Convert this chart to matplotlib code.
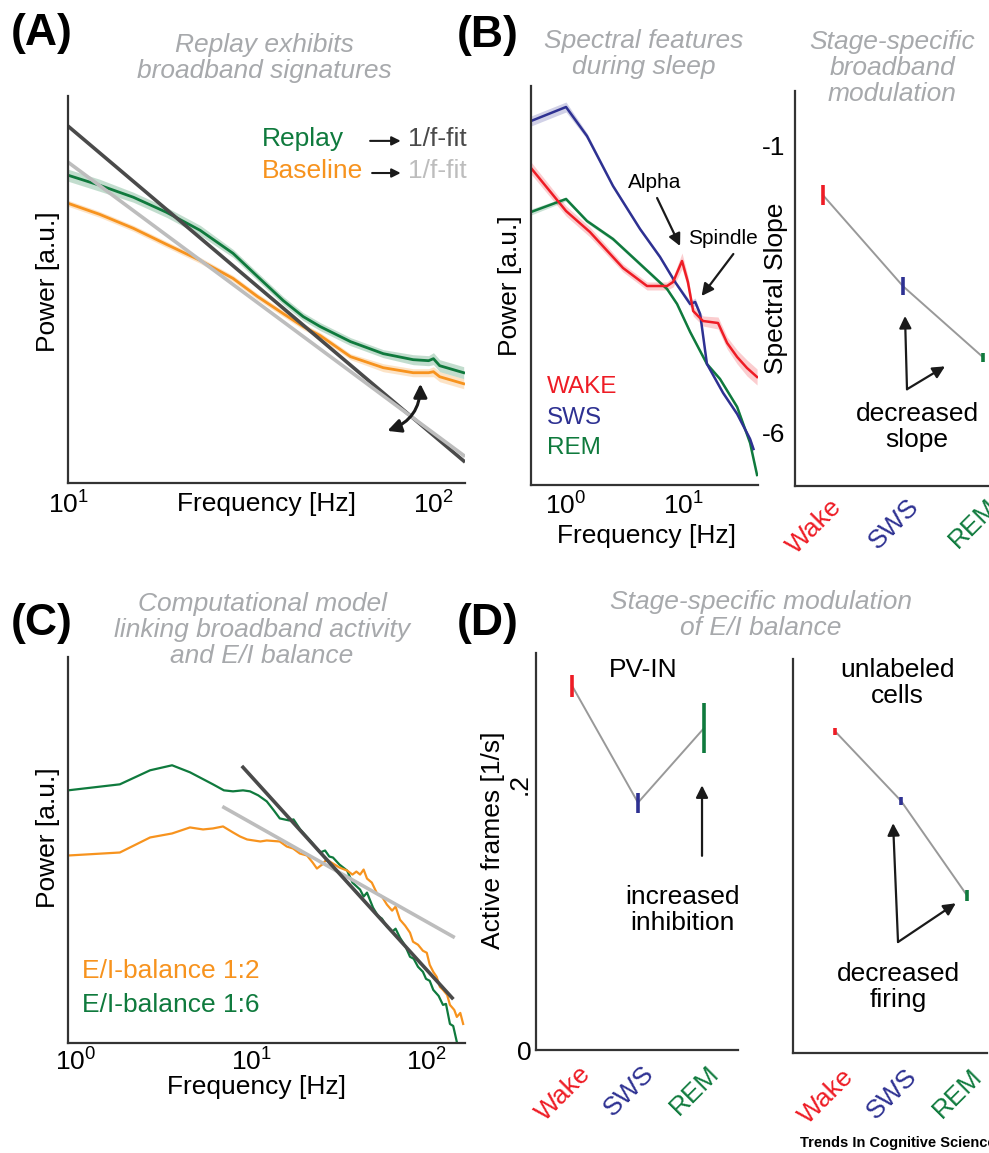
import numpy as np
import matplotlib
matplotlib.use('Agg')
import matplotlib.pyplot as plt
from matplotlib.transforms import ScaledTranslation

plt.rcParams['font.family'] = ['Liberation Sans', 'DejaVu Sans']
plt.rcParams['mathtext.fontset'] = 'custom'
plt.rcParams['mathtext.rm'] = 'Liberation Sans'
plt.rcParams['mathtext.it'] = 'Liberation Sans:italic'
plt.rcParams['mathtext.bf'] = 'Liberation Sans:bold'

# colours
GREEN = '#0f7a3d'
ORANGE = '#f7931e'
RED = '#ee1c25'
BLUE = '#2e3192'
TITLE_GRAY = '#a7a9ac'
FIT_DARK = '#4a4a4a'
FIT_LIGHT = '#bdbdbd'
SPINE = '#333333'
LINK = '#999999'

# ---- panel A: replay vs baseline spectra ----
a_freq = [10, 12.2, 15.1, 18.6, 23, 28.3, 33, 38.8, 44, 49, 59.3, 72.9, 88, 97, 100, 104, 121]
a_replay = [307, 297, 285, 270, 252, 229, 206, 182, 166, 156, 141, 129, 123, 122, 124, 117, 110]
a_replay_sem = [6, 6, 5, 5, 5, 4, 4, 4, 4, 4, 4, 4, 5, 5, 6, 6, 6]
a_baseline = [279, 268, 254, 238, 222, 204, 186, 169, 156, 147, 126, 115, 110, 110, 111, 106, 99]
a_baseline_sem = [3, 3, 3, 3, 3, 3, 3, 3, 3, 3, 3, 4, 4, 4, 5, 5, 5]
a_fit_freq = [10, 121]
a_fit_replay = [356, 22]
a_fit_baseline = [320, 27.5]

# ---- panel B: spectra per sleep stage ----
b_wake_freq = [0.502, 1.0, 1.6, 3.07, 4.92, 7.3, 8.22, 9.8, 11.0, 12.2, 14.8, 19.9, 23.8, 29.0, 35.2, 42.9]
b_wake = [317, 274, 253, 217, 199, 199, 203, 224, 203, 174, 164, 162, 142, 128, 117, 108]
b_wake_sem = [6, 5, 5, 4, 4, 4, 5, 8, 6, 5, 5, 6, 6, 7, 8, 8]
b_sws_freq = [0.502, 1.0, 1.51, 2.52, 4.29, 6.36, 8.55, 11.5, 12.7, 14.0, 16.0, 22.0, 29.0, 37.4, 40.0]
b_sws = [364, 378, 349, 299, 256, 228, 203, 181, 183, 171, 121, 92, 71, 46, 36]
b_sws_sem = [5, 5, 3, 2, 2, 2, 2, 3, 4, 2, 2, 2, 2, 2, 2]
b_rem_freq = [0.502, 1.0, 1.51, 2.52, 4.29, 7.3, 8.89, 11.5, 16.0, 20.7, 29.0, 37.4, 42.9]
b_rem = [273, 286, 264, 246, 221, 196, 181, 153, 121, 106, 78, 42, 10]
b_rem_sem = [3, 2, 2, 2, 2, 2, 2, 2, 2, 2, 2, 2, 2]

stages = ['Wake', 'SWS', 'REM']
stage_colors = [RED, BLUE, GREEN]
b_slope = [-1.86, -3.45, -4.69]
b_slope_err = [0.17, 0.16, 0.08]

# ---- panel C: model spectra ----
c_ei6_freq = [0.9, 1.78, 2.65, 3.54, 4.48, 6.06, 7.0, 7.89, 9.0, 9.87, 11, 12.3, 13.5, 14.6, 16.5,
              17.5, 19.1, 21, 22.5, 24.8, 26.5, 28, 29.4, 32, 35.4, 38, 42, 44, 46, 49.8, 53, 56,
              59.8, 64, 67, 71, 76, 81, 85, 90, 96, 100, 105, 110, 118, 125, 130, 137, 143, 150]
c_ei6 = [252, 258, 272, 277, 270, 258, 252, 251, 252, 251, 247, 241, 232, 224, 222,
         223, 213, 205, 199, 190, 192, 186, 185, 178, 172, 160, 153, 146, 150, 135, 127, 124,
         116, 111, 114, 105, 97, 86, 84, 76, 71, 64, 62, 53, 47, 38, 39, 19, 17, 1]
c_ei2_freq = [0.9, 1.78, 2.65, 3.54, 4.48, 5.32, 6.06, 6.92, 7.89, 8.65, 9.5, 11.3, 12.3, 14.6, 16,
              17.4, 19, 20.9, 22.5, 23.8, 25.5, 27, 29.4, 32, 35.4, 38, 40, 42, 44, 46, 49, 52.5,
              56, 59.8, 64, 67, 71, 76, 81, 84.3, 90, 96, 101, 105, 110, 115, 120, 125, 132, 137,
              145, 150, 157, 163]
c_ei2 = [187, 190, 205, 209, 215, 213, 214, 216, 210, 206, 203, 201, 202, 201, 196,
         194, 189, 187, 180, 174, 178, 183, 179, 175, 172, 168, 171, 168, 173, 164, 160, 149,
         146, 138, 132, 136, 123, 117, 110, 101, 98, 92, 90, 78, 71, 66, 56, 53, 48, 38,
         33, 26, 30, 19]
c_fit6_freq = [9.0, 141]
c_fit6 = [275, 45]
c_fit2_freq = [7.0, 143]
c_fit2 = [235, 106]

# ---- panel D: active frames per stage ----
d_pv = [0.274, 0.186, 0.242]
d_pv_err = [0.0083, 0.0075, 0.019]
d_unl = [0.245, 0.192, 0.120]
d_unl_err = [0.0025, 0.003, 0.004]

W, H = 989, 1153
fig = plt.figure(figsize=(W / 100, H / 100), dpi=100)


def px_axes(l, t, r, b):
    return fig.add_axes([l / W, 1 - b / H, (r - l) / W, (b - t) / H])


def fig_text(x, y, s, **kw):
    fig.text(x / W, 1 - y / H, s, **kw)


def style(ax):
    for side in ['top', 'right']:
        ax.spines[side].set_visible(False)
    for side in ['left', 'bottom']:
        ax.spines[side].set_linewidth(1.6)
        ax.spines[side].set_color(SPINE)
    ax.tick_params(length=0, labelsize=19)
    ax.set_facecolor('none')


def stage_ticks(ax, pad):
    ax.set_xticks(range(len(stages)))
    ax.set_xticklabels(stages, rotation=45, ha='center', va='top')
    ax.tick_params(axis='x', pad=pad)
    for lbl, c in zip(ax.get_xticklabels(), stage_colors):
        lbl.set_color(c)
        lbl.set_transform(lbl.get_transform() + ScaledTranslation(-0.09, 0, fig.dpi_scale_trans))


arrow_kw = dict(arrowstyle='-|>', color='#1a1a1a', lw=1.6, mutation_scale=18, shrinkA=0, shrinkB=0)

# ================= A =================
ax = px_axes(68, 96, 465, 483)
style(ax)
ax.set_xscale('log')
ax.fill_between(a_freq, np.array(a_replay) - a_replay_sem, np.array(a_replay) + a_replay_sem,
                color=GREEN, alpha=0.25, lw=0)
ax.fill_between(a_freq, np.array(a_baseline) - a_baseline_sem, np.array(a_baseline) + a_baseline_sem,
                color=ORANGE, alpha=0.25, lw=0)
ax.plot(a_freq, a_replay, color=GREEN, lw=2)
ax.plot(a_freq, a_baseline, color=ORANGE, lw=2)
ax.plot(a_fit_freq, a_fit_replay, color=FIT_DARK, lw=2.6)
ax.plot(a_fit_freq, a_fit_baseline, color=FIT_LIGHT, lw=2.6)
ax.set_xlim(10, 122)
ax.set_ylim(0, 386)
ax.set_xticks([10, 100])
ax.set_xticklabels(['$10^{1}$', '$10^{2}$'])
ax.set_xticks([], minor=True)
ax.set_yticks([])
ax.tick_params(axis='x', pad=6)
ax.set_xlabel('Frequency [Hz]', fontsize=19)
ax.xaxis.set_label_coords(0.501, -0.054)
ax.xaxis.label.set_va('center')
ax.set_ylabel('Power [a.u.]', fontsize=19)
ax.yaxis.set_label_coords(-0.050, 0.519)
ax.yaxis.label.set_va('center')
ax.annotate('', xy=(92.1, 99), xytext=(74.8, 52),
            arrowprops=dict(arrowstyle='<|-|>', connectionstyle='arc3,rad=0.35', color='#1a1a1a',
                            lw=2.2, mutation_scale=20, shrinkA=0, shrinkB=0))
ax.text(0.489, 0.889, 'Replay', color=GREEN, fontsize=19, transform=ax.transAxes, va='center')
ax.text(0.489, 0.806, 'Baseline', color=ORANGE, fontsize=19, transform=ax.transAxes, va='center')
ax.text(0.856, 0.889, '1/f-fit', color=FIT_DARK, fontsize=19, transform=ax.transAxes, va='center')
ax.text(0.856, 0.806, '1/f-fit', color=FIT_LIGHT, fontsize=19, transform=ax.transAxes, va='center')
for yf, x0 in [(0.884, 0.761), (0.801, 0.766)]:
    ax.annotate('', xy=(0.838, yf), xytext=(x0, yf), xycoords='axes fraction',
                arrowprops=dict(arrowstyle='-|>', color='#1a1a1a', lw=1.5, mutation_scale=13,
                                shrinkA=0, shrinkB=0))

# ================= B left =================
ax = px_axes(531, 86, 758, 485)
style(ax)
ax.set_xscale('log')
for f, v, s, c in [(b_wake_freq, b_wake, b_wake_sem, RED),
                   (b_sws_freq, b_sws, b_sws_sem, BLUE),
                   (b_rem_freq, b_rem, b_rem_sem, GREEN)]:
    ax.fill_between(f, np.array(v) - s, np.array(v) + s, color=c, alpha=0.22, lw=0)
ax.plot(b_rem_freq, b_rem, color=GREEN, lw=1.8)
ax.plot(b_sws_freq, b_sws, color=BLUE, lw=1.8)
ax.plot(b_wake_freq, b_wake, color=RED, lw=1.8)
ax.set_xlim(0.502, 43.7)
ax.set_ylim(0, 399)
ax.set_xticks([1, 10])
ax.set_xticklabels(['$10^{0}$', '$10^{1}$'])
ax.set_xticks([], minor=True)
ax.set_yticks([])
ax.tick_params(axis='x', pad=5)
ax.set_xlabel('Frequency [Hz]', fontsize=19)
ax.xaxis.set_label_coords(0.511, -0.128)
ax.xaxis.label.set_va('center')
ax.set_ylabel('Power [a.u.]', fontsize=19)
ax.yaxis.set_label_coords(-0.0925, 0.499)
ax.yaxis.label.set_va('center')
ax.text(5.77, 302, 'Alpha', fontsize=15, ha='center', va='center')
ax.annotate('', xy=(9.43, 239), xytext=(6.0, 287), arrowprops=arrow_kw)
ax.text(22.0, 247, 'Spindle', fontsize=15, ha='center', va='center')
ax.annotate('', xy=(14.4, 189), xytext=(26.9, 231), arrowprops=arrow_kw)
for name, c, yv in [('WAKE', RED, 98), ('SWS', BLUE, 67), ('REM', GREEN, 37)]:
    ax.text(0.07, yv / 399, name, color=c, fontsize=17.5, transform=ax.transAxes, va='center')

# ================= B right =================
ax = px_axes(795, 91, 989, 486)
style(ax)
x = np.arange(len(stages))
ax.plot(x, b_slope, color=LINK, lw=1.4, zorder=1)
ax.vlines(x, np.array(b_slope) - b_slope_err, np.array(b_slope) + b_slope_err,
          colors=stage_colors, lw=2.6, zorder=2)
ax.set_xlim(-0.35, 2.075)
ax.set_ylim(-6.94, -0.04)
ax.set_yticks([-1, -6])
ax.set_yticklabels(['-1', '-6'])
ax.tick_params(axis='y', pad=7)
stage_ticks(ax, 6)
ax.set_ylabel('Spectral Slope', fontsize=19)
ax.yaxis.set_label_coords(-0.098, 0.501)
ax.yaxis.label.set_va('center')
ax.text(1.175, -5.91, 'decreased\nslope', fontsize=19, ha='center', va='center', linespacing=1.1)
ax.annotate('', xy=(1.025, -3.97), xytext=(1.05, -5.25), arrowprops=arrow_kw)
ax.annotate('', xy=(1.525, -4.85), xytext=(1.05, -5.25), arrowprops=arrow_kw)

# ================= C =================
ax = px_axes(68, 657, 465, 1043)
style(ax)
ax.set_xscale('log')
ax.plot(c_ei6_freq, c_ei6, color=GREEN, lw=1.6)
ax.plot(c_ei2_freq, c_ei2, color=ORANGE, lw=1.6)
ax.plot(c_fit2_freq, c_fit2, color=FIT_LIGHT, lw=2.6)
ax.plot(c_fit6_freq, c_fit6, color=FIT_DARK, lw=2.6)
ax.set_xlim(0.9, 167)
ax.set_ylim(0, 385)
ax.set_xticks([1, 10, 100])
ax.set_xticklabels(['$10^{0}$', '$10^{1}$', '$10^{2}$'])
ax.set_xticks([], minor=True)
ax.set_yticks([])
ax.tick_params(axis='x', pad=4)
ax.set_xlabel('Frequency [Hz]', fontsize=19)
ax.xaxis.set_label_coords(0.474, -0.115)
ax.xaxis.label.set_va('center')
ax.set_ylabel('Power [a.u.]', fontsize=19)
ax.yaxis.set_label_coords(-0.050, 0.531)
ax.yaxis.label.set_va('center')
ax.text(0.035, 0.187, 'E/I-balance 1:2', color=ORANGE, fontsize=19, transform=ax.transAxes, va='center')
ax.text(0.035, 0.098, 'E/I-balance 1:6', color=GREEN, fontsize=19, transform=ax.transAxes, va='center')

# ================= D left =================
ax = px_axes(536, 653, 738, 1050)
style(ax)
ax.plot(x, d_pv, color=LINK, lw=1.4, zorder=1)
ax.vlines(x, np.array(d_pv) - d_pv_err, np.array(d_pv) + d_pv_err, colors=stage_colors, lw=2.6, zorder=2)
ax.set_xlim(-0.545, 2.515)
ax.set_ylim(0, 0.2985)
ax.set_yticks([0, 0.2])
ax.set_yticklabels(['0', '.2'])
ax.tick_params(axis='y', pad=3)
ax.get_yticklabels()[1].set_rotation(90)
ax.get_yticklabels()[1].set_va('center')
stage_ticks(ax, 8)
ax.set_ylabel('Active frames [1/s]', fontsize=19)
ax.yaxis.set_label_coords(-0.213, 0.529)
ax.yaxis.label.set_va('center')
ax.text(1.076, 0.2857, 'PV-IN', fontsize=19, ha='center', va='center')
ax.text(1.68, 0.105, 'increased\ninhibition', fontsize=19, ha='center', va='center', linespacing=1.1)
ax.annotate('', xy=(1.97, 0.199), xytext=(1.97, 0.146), arrowprops=arrow_kw)

# ================= D right =================
ax = px_axes(793, 659, 987, 1053)
style(ax)
ax.plot(x, d_unl, color=LINK, lw=1.4, zorder=1)
ax.vlines(x, np.array(d_unl) - d_unl_err, np.array(d_unl) + d_unl_err, colors=stage_colors, lw=2.6, zorder=2)
ax.set_xlim(-0.636, 2.303)
ax.set_ylim(0, 0.30)
ax.set_yticks([])
stage_ticks(ax, 8)
ax.text(0.94, 0.282, 'unlabeled\ncells', fontsize=19, ha='center', va='center', linespacing=1.1)
ax.text(0.955, 0.0503, 'decreased\nfiring', fontsize=19, ha='center', va='center', linespacing=1.1)
ax.annotate('', xy=(0.88, 0.175), xytext=(0.955, 0.0845), arrowprops=arrow_kw)
ax.annotate('', xy=(1.83, 0.114), xytext=(0.955, 0.0845), arrowprops=arrow_kw)

# ---- titles and panel letters ----
title_kw = dict(fontsize=19, style='italic', color=TITLE_GRAY, ha='center', va='center', linespacing=1.12)
fig_text(264, 58, 'Replay exhibits\nbroadband signatures', **title_kw)
fig_text(644, 54, 'Spectral features\nduring sleep', **title_kw)
fig_text(892, 68, 'Stage-specific\nbroadband\nmodulation', **title_kw)
fig_text(262, 630, 'Computational model\nlinking broadband activity\nand E/I balance', **title_kw)
fig_text(761, 615, 'Stage-specific modulation\nof E/I balance', **title_kw)

letter_kw = dict(fontsize=32, fontweight='bold', ha='center', va='center')
fig_text(42, 34, '(A)', **letter_kw)
fig_text(488, 35, '(B)', **letter_kw)
fig_text(42, 624, '(C)', **letter_kw)
fig_text(488, 624, '(D)', **letter_kw)

fig_text(800, 1143, 'Trends In Cognitive Sciences', fontsize=10.5, fontweight='bold', ha='left', va='center')

fig.savefig('out.png', dpi=100)
